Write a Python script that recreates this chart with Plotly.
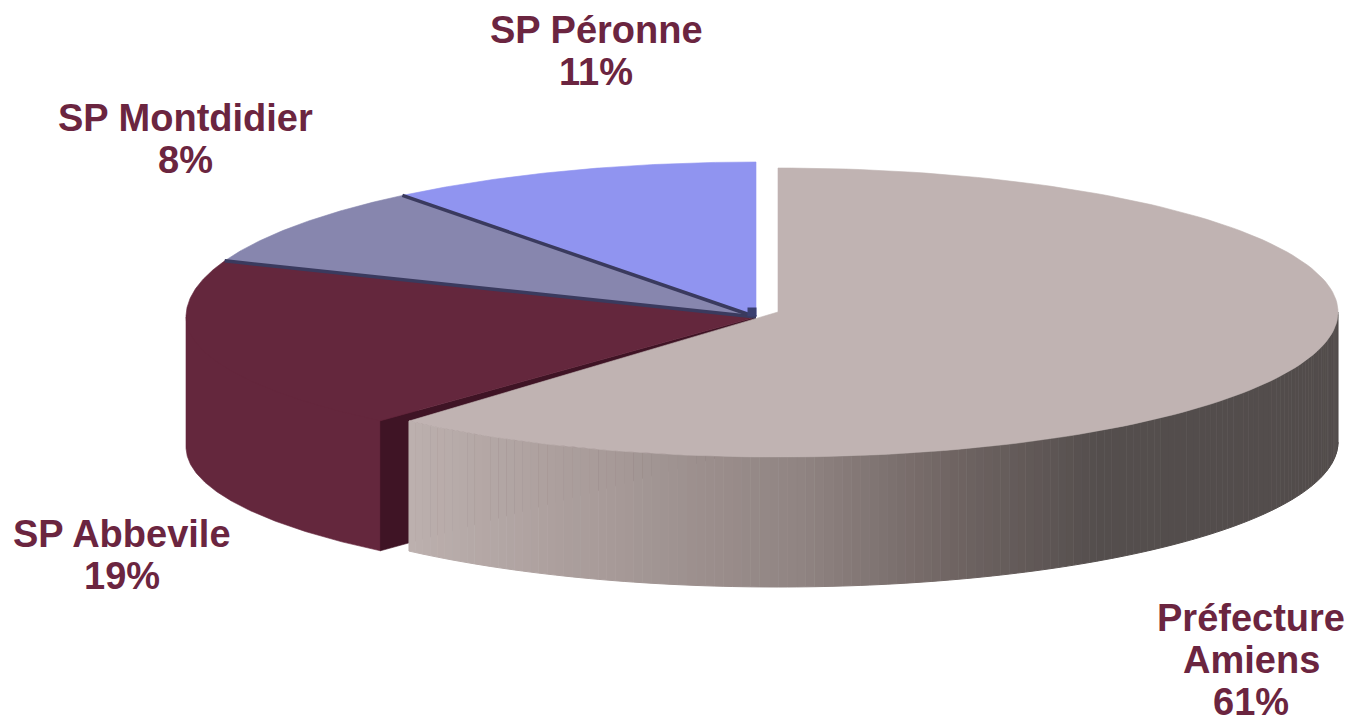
import numpy as np
import plotly.graph_objects as go

# Data, clockwise from 12 o'clock
labels = [["Préfecture", "Amiens"], ["SP Abbevile"], ["SP Montdidier"], ["SP Péronne"]]
values = [61.45, 19.45, 8.45, 10.65]
top_colors = ["#c0b3b2", "#64273d", "#8786ae", "#9094f0"]

# Label anchors: (centre x, first-line y)
label_pos = [(1251, 618), (122, 534), (185, 118), (596, 30)]
LINE_H = 42
TEXT_COLOR = "#6b2540"

# Pie projection
DEPTH = 130
MAIN = dict(cx=778, cy=312, a=560, back=144, front=145)
REST = dict(cx=756, cy=317, a=570, back=155, front=138)
SEP = "#3a3a5e"
TIP = "#3a3f70"
CUT = "#3f1425"
GRAD_X = [408, 600, 800, 950, 1100, 1340]
GRAD_C = [(188, 176, 174), (168, 155, 153), (144, 132, 130), (112, 101, 99), (84, 78, 77), (82, 76, 75)]

fracs = np.array(values, float) / sum(values)
edges = np.concatenate([[0], np.cumsum(fracs)]) * 2 * np.pi


def pt(g, t):
    t = np.asarray(t, float)
    c = np.cos(t)
    b = np.where(c >= 0, g["back"], g["front"])
    return g["cx"] + g["a"] * np.sin(t), g["cy"] - b * c


def arc(g, t0, t1, n=160):
    return pt(g, np.linspace(t0, t1, n))


def poly(fig, xs, ys, color, line=None, lw=0.6):
    fig.add_trace(go.Scatter(x=list(xs), y=list(ys), mode="lines", fill="toself",
                             fillcolor=color, line=dict(color=line or color, width=lw),
                             hoverinfo="skip", showlegend=False))


def wedge(fig, g, t0, t1, color):
    x, y = arc(g, t0, t1)
    poly(fig, np.r_[g["cx"], x, g["cx"]], np.r_[g["cy"], y, g["cy"]], color)


fig = go.Figure()

# Back slices
wedge(fig, REST, edges[3], edges[4], top_colors[3])
wedge(fig, REST, edges[2], edges[3], top_colors[2])

# Abbeville side wall (runs up under the top face so no seam shows) and cut face
side_end = 1.5 * np.pi
x, y = arc(REST, edges[1], side_end)
xin = REST["cx"] + 0.9 * (x - REST["cx"])
yin = REST["cy"] + 0.9 * (y - REST["cy"])
poly(fig, np.r_[x, x[-1], xin[::-1], x[0]], np.r_[y + DEPTH, y[-1], yin[::-1], y[0] + DEPTH], top_colors[1])
cx_, cy_ = pt(REST, edges[1])
poly(fig, [REST["cx"], cx_, cx_, REST["cx"]],
     [REST["cy"], cy_, cy_ + DEPTH, REST["cy"] + DEPTH], CUT)
wedge(fig, REST, edges[1], edges[2], top_colors[1])

# Separators between back slices
for e in (edges[2], edges[3]):
    ex, ey = pt(REST, e)
    fig.add_trace(go.Scatter(x=[REST["cx"], float(ex)], y=[REST["cy"], float(ey)], mode="lines",
                             line=dict(color=SEP, width=3.5), hoverinfo="skip", showlegend=False))

# Main slice side wall, shaded along x
ts = np.linspace(np.pi / 2, edges[1], 141)
for t0, t1 in zip(ts[:-1], ts[1:]):
    x, y = arc(MAIN, t0, t1, 3)
    mid = float(x.mean())
    rgb = [int(round(np.interp(mid, GRAD_X, [c[i] for c in GRAD_C]))) for i in range(3)]
    col = "rgb(%d,%d,%d)" % tuple(rgb)
    poly(fig, np.r_[x, x[::-1]], np.r_[y, (y + DEPTH)[::-1]], col, lw=1)

# Main slice top
wedge(fig, MAIN, edges[0], edges[1], top_colors[0])

# Dark spot where the back slices meet
fig.add_trace(go.Scatter(x=[REST["cx"] - 4], y=[REST["cy"] - 5], mode="markers",
                         marker=dict(symbol="square", size=9, color=TIP, line=dict(width=0)),
                         hoverinfo="skip", showlegend=False))

# Labels
annotations = []
for lab, val, (lx, ly) in zip(labels, values, label_pos):
    for i, line in enumerate(lab + [f"{val:.0f}%"]):
        annotations.append(dict(x=lx, y=ly + i * LINE_H, text="<b>" + line + "</b>", showarrow=False,
                                xanchor="center", yanchor="middle",
                                font=dict(family="Liberation Sans", size=38, color=TEXT_COLOR)))

fig.update_layout(
    width=1350, height=717, margin=dict(l=0, r=0, t=0, b=0),
    paper_bgcolor="white", plot_bgcolor="white", showlegend=False,
    xaxis=dict(range=[0, 1350], visible=False, fixedrange=True),
    yaxis=dict(range=[717, 0], visible=False, fixedrange=True),
    annotations=annotations,
)
fig.write_html("out.html", post_script="document.body.style.margin='0';",
               config={"displayModeBar": False})
